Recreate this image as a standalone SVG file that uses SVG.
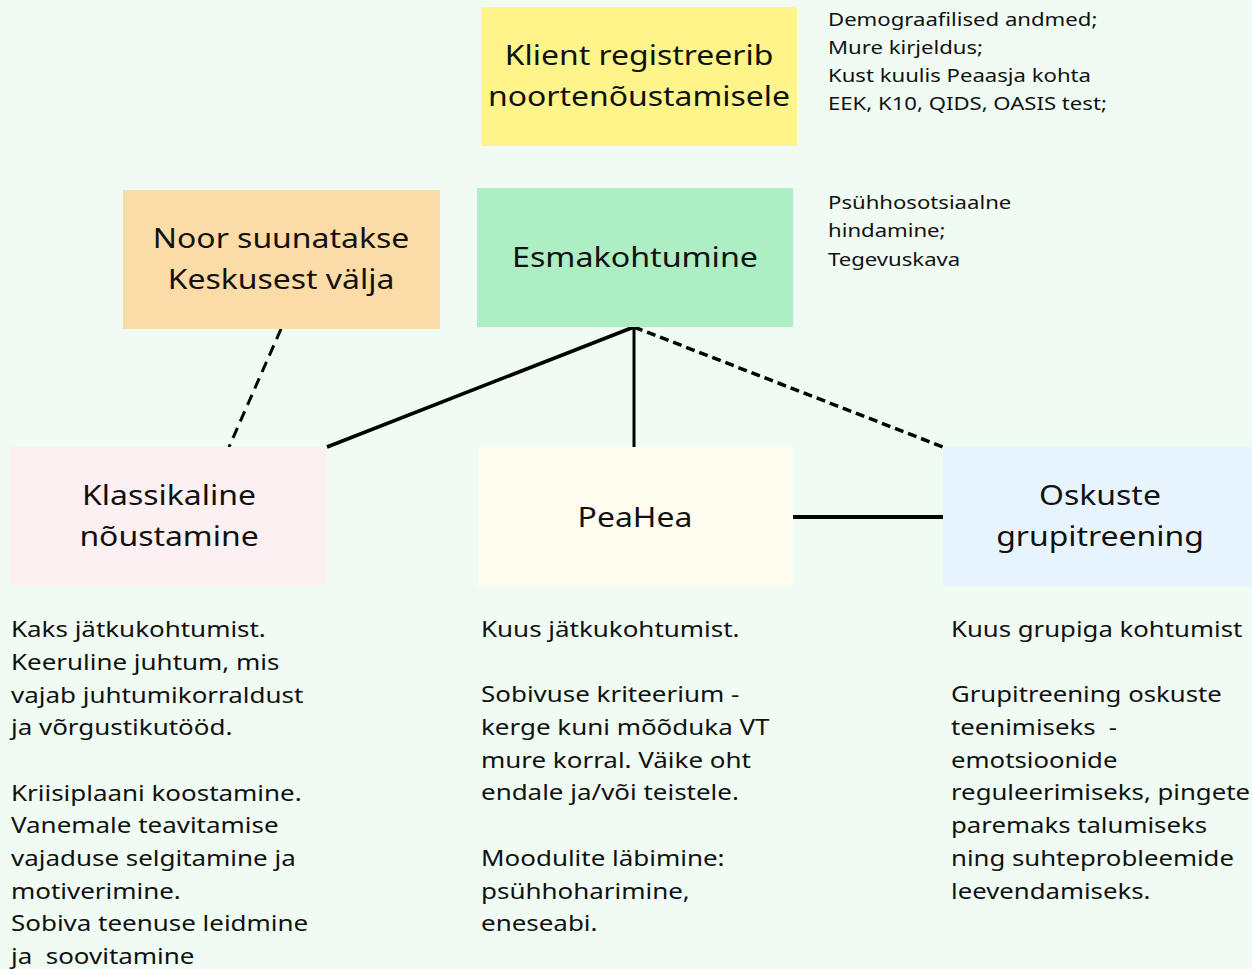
<svg xmlns="http://www.w3.org/2000/svg" width="1252" height="969" viewBox="0 0 1252 969">
<style>
.t{font-family:"Noto Sans","Open Sans",sans-serif;fill:#111;}
.title{font-size:28px;text-anchor:middle;}
.side{font-size:18px;}
.body{font-size:22px;}
.c{stroke:#000;fill:none;}
</style>
<rect x="0" y="0" width="1252" height="969" fill="#f0fcf3"/>
<g id="connectors">
<line class="c" x1="281" y1="329" x2="229" y2="447" stroke-width="3" stroke-dasharray="11,7"/>
<line class="c" x1="634" y1="327" x2="327" y2="447" stroke-width="3.5"/>
<line class="c" x1="634" y1="327" x2="634" y2="447" stroke-width="3"/>
<line class="c" x1="634" y1="327" x2="943" y2="447" stroke-width="3.5" stroke-dasharray="9,5"/>
<line class="c" x1="793" y1="517" x2="943" y2="517" stroke-width="4"/>
</g>
<g id="node-register">
<rect x="481" y="7" width="316" height="139" fill="#fdf58a"/>
<g transform="translate(639,0) scale(1.14,1)">
<text class="t title" x="0" y="65">Klient registreerib</text>
<text class="t title" x="0" y="106">noortenõustamisele</text>
</g>
</g>
<g id="note-register" transform="translate(828,0) scale(1.23,1)">
<text class="t side" x="0" y="26">Demograafilised andmed;</text>
<text class="t side" x="0" y="54">Mure kirjeldus;</text>
<text class="t side" x="0" y="82">Kust kuulis Peaasja kohta</text>
<text class="t side" x="0" y="110">EEK, K10, QIDS, OASIS test;</text>
</g>
<g id="node-out">
<rect x="123" y="190" width="317" height="139" fill="#fcdca6"/>
<g transform="translate(281,0) scale(1.14,1)">
<text class="t title" x="0" y="248">Noor suunatakse</text>
<text class="t title" x="0" y="289">Keskusest välja</text>
</g>
</g>
<g id="node-first">
<rect x="477" y="188" width="316" height="139" fill="#aeeec4"/>
<g transform="translate(635,0) scale(1.15,1)">
<text class="t title" x="0" y="267">Esmakohtumine</text>
</g>
</g>
<g id="note-first" transform="translate(828,0) scale(1.23,1)">
<text class="t side" x="0" y="209">Psühhosotsiaalne</text>
<text class="t side" x="0" y="237">hindamine;</text>
<text class="t side" x="0" y="266">Tegevuskava</text>
</g>
<g id="node-classic">
<rect x="10" y="447" width="317" height="139" fill="#fdf0f3"/>
<g transform="translate(169,0) scale(1.14,1)">
<text class="t title" x="0" y="505">Klassikaline</text>
<text class="t title" x="0" y="546">nõustamine</text>
</g>
</g>
<g id="node-peahea">
<rect x="478" y="447" width="315" height="139" fill="#fefdf0"/>
<g transform="translate(635,0) scale(1.14,1)">
<text class="t title" x="0" y="527">PeaHea</text>
</g>
</g>
<g id="node-group">
<rect x="943" y="447" width="309" height="139" fill="#e8f4fd"/>
<g transform="translate(1100,0) scale(1.14,1)">
<text class="t title" x="0" y="505">Oskuste</text>
<text class="t title" x="0" y="546">grupitreening</text>
</g>
</g>
<g id="text-classic" transform="translate(11,0) scale(1.18,1)">
<text class="t body" x="0" y="637">Kaks jätkukohtumist.</text>
<text class="t body" x="0" y="670">Keeruline juhtum, mis</text>
<text class="t body" x="0" y="703">vajab juhtumikorraldust</text>
<text class="t body" x="0" y="735">ja võrgustikutööd.</text>
<text class="t body" x="0" y="801">Kriisiplaani koostamine.</text>
<text class="t body" x="0" y="833">Vanemale teavitamise</text>
<text class="t body" x="0" y="866">vajaduse selgitamine ja</text>
<text class="t body" x="0" y="899">motiverimine.</text>
<text class="t body" x="0" y="931">Sobiva teenuse leidmine</text>
<text class="t body" x="0" y="964" xml:space="preserve">ja  soovitamine</text>
</g>
<g id="text-peahea" transform="translate(481,0) scale(1.18,1)">
<text class="t body" x="0" y="637">Kuus jätkukohtumist.</text>
<text class="t body" x="0" y="702">Sobivuse kriteerium -</text>
<text class="t body" x="0" y="735">kerge kuni mõõduka VT</text>
<text class="t body" x="0" y="768">mure korral. Väike oht</text>
<text class="t body" x="0" y="800">endale ja/või teistele.</text>
<text class="t body" x="0" y="866">Moodulite läbimine:</text>
<text class="t body" x="0" y="899">psühhoharimine,</text>
<text class="t body" x="0" y="931">eneseabi.</text>
</g>
<g id="text-group" transform="translate(951,0) scale(1.17,1)">
<text class="t body" x="0" y="637">Kuus grupiga kohtumist</text>
<text class="t body" x="0" y="702">Grupitreening oskuste</text>
<text class="t body" x="0" y="735" xml:space="preserve">teenimiseks  -</text>
<text class="t body" x="0" y="768">emotsioonide</text>
<text class="t body" x="0" y="800">reguleerimiseks, pingete</text>
<text class="t body" x="0" y="833">paremaks talumiseks</text>
<text class="t body" x="0" y="866">ning suhteprobleemide</text>
<text class="t body" x="0" y="899">leevendamiseks.</text>
</g>
</svg>
